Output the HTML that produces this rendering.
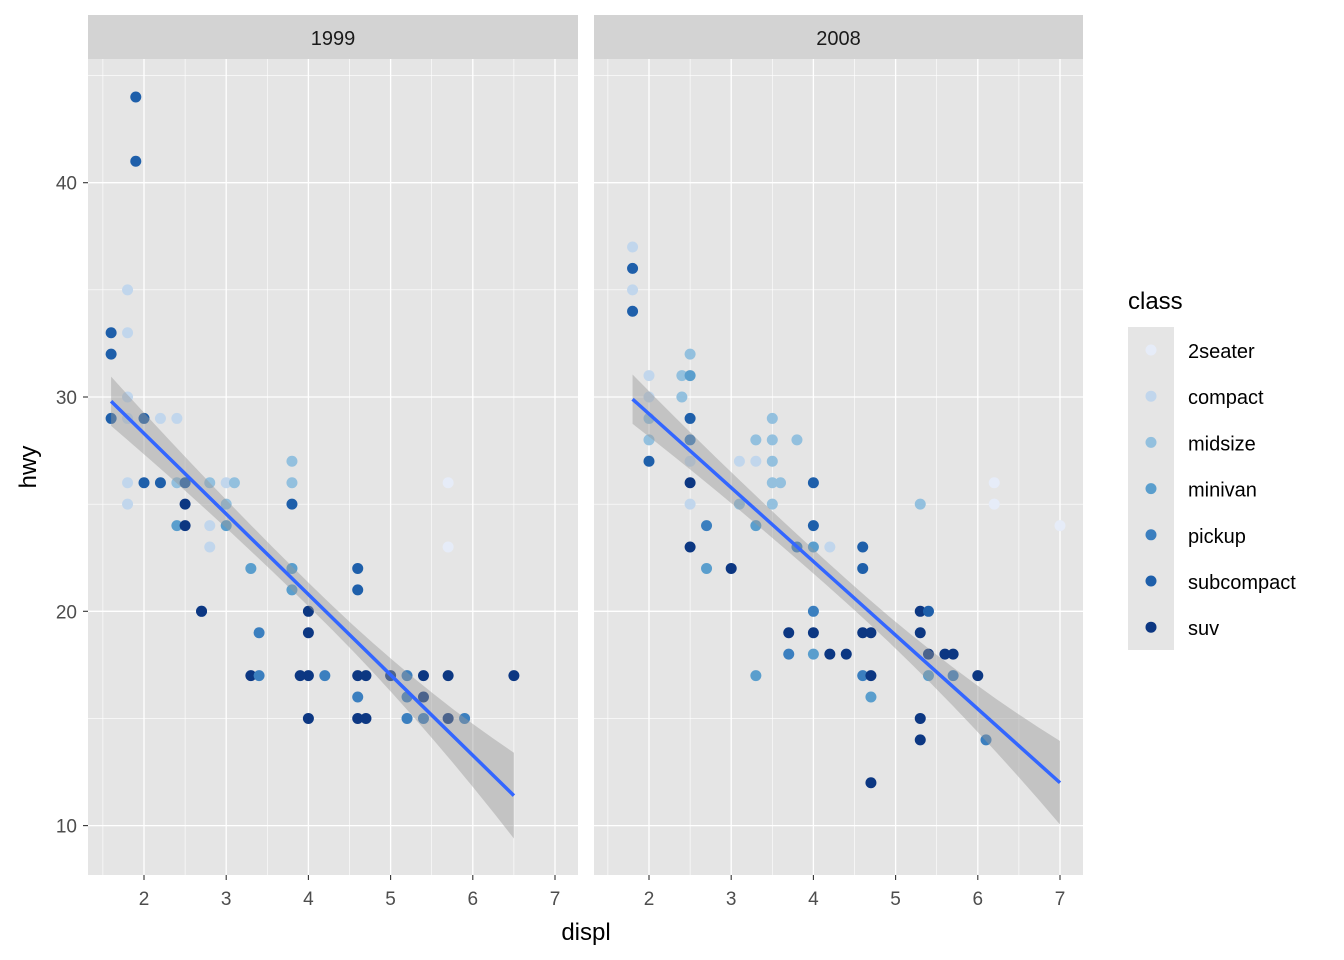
<!DOCTYPE html>
<html><head><meta charset="utf-8"><style>body{margin:0;background:#fff}svg{display:block}text{font-family:"Liberation Sans",Arial,sans-serif}</style></head>
<body>
<svg id="s" width="1344" height="960" xmlns="http://www.w3.org/2000/svg"></svg>
<script>
(function(){
const S=document.getElementById('s');let h='';
const C={'2s':'#E6ECF8',c:'#C1D6EC',mid:'#93C0DE',min:'#5A9ECD',pick:'#3B7FBF',sub:'#1E5FAA',suv:'#0C3782'};
const order=['2s','c','mid','min','pick','sub','suv'];
const px=(x,o)=>o+144+(x-2)*82.2, py=y=>397-(y-30)*21.43;
const PT=59,PB=875;
const p1=[[1.6,33,'sub'],[1.6,32,'sub'],[1.6,29,'sub'],[1.8,35,'c'],[1.8,33,'c'],[1.8,30,'c'],[1.8,29,'c'],[1.8,26,'c'],[1.8,25,'c'],[1.9,44,'sub'],[1.9,41,'sub'],[2.0,29,'sub'],[2.0,26,'sub'],[2.2,29,'c'],[2.2,26,'sub'],[2.4,29,'c'],[2.4,26,'mid'],[2.4,24,'min'],[2.5,26,'sub'],[2.5,25,'suv'],[2.5,24,'suv'],[2.7,20,'pick'],[2.7,20,'suv'],[2.8,26,'mid'],[2.8,24,'c'],[2.8,23,'c'],[3.0,26,'c'],[3.0,25,'mid'],[3.0,24,'min'],[3.1,26,'mid'],[3.3,22,'min'],[3.3,17,'suv'],[3.4,19,'pick'],[3.4,17,'pick'],[3.8,27,'mid'],[3.8,26,'mid'],[3.8,25,'sub'],[3.8,22,'min'],[3.8,21,'min'],[4.0,20,'suv'],[4.0,19,'suv'],[4.0,17,'suv'],[4.0,15,'suv'],[3.9,17,'suv'],[4.2,17,'pick'],[4.6,22,'sub'],[4.6,21,'sub'],[4.6,17,'suv'],[4.6,16,'pick'],[4.6,15,'suv'],[4.7,17,'suv'],[4.7,15,'suv'],[5.0,17,'suv'],[5.2,17,'pick'],[5.2,16,'pick'],[5.2,15,'pick'],[5.4,17,'suv'],[5.4,16,'suv'],[5.4,15,'pick'],[5.7,17,'suv'],[5.7,15,'suv'],[5.7,26,'2s'],[5.7,23,'2s'],[5.9,15,'pick'],[6.5,17,'suv']];
const p2=[[1.8,37,'c'],[1.8,36,'sub'],[1.8,35,'c'],[1.8,34,'sub'],[2.0,31,'c'],[2.0,30,'c'],[2.0,29,'mid'],[2.0,28,'mid'],[2.0,27,'sub'],[2.4,31,'mid'],[2.4,30,'mid'],[2.5,32,'mid'],[2.5,31,'min'],[2.5,29,'sub'],[2.5,28,'pick'],[2.5,27,'c'],[2.5,26,'suv'],[2.5,25,'c'],[2.5,23,'suv'],[2.7,24,'pick'],[2.7,22,'min'],[3.0,22,'suv'],[3.1,27,'c'],[3.1,25,'mid'],[3.3,28,'mid'],[3.3,27,'c'],[3.3,24,'min'],[3.3,17,'min'],[3.5,29,'mid'],[3.5,28,'mid'],[3.5,27,'mid'],[3.5,26,'mid'],[3.5,25,'mid'],[3.6,26,'mid'],[3.7,19,'suv'],[3.7,18,'pick'],[3.8,28,'mid'],[3.8,23,'pick'],[4.0,26,'sub'],[4.0,24,'sub'],[4.0,23,'min'],[4.0,20,'pick'],[4.0,19,'suv'],[4.0,18,'min'],[4.2,23,'c'],[4.2,18,'suv'],[4.4,18,'suv'],[4.6,23,'sub'],[4.6,22,'sub'],[4.6,19,'suv'],[4.6,17,'pick'],[4.7,19,'suv'],[4.7,17,'suv'],[4.7,16,'min'],[4.7,12,'suv'],[5.3,25,'mid'],[5.3,20,'suv'],[5.3,19,'suv'],[5.3,15,'suv'],[5.3,14,'suv'],[5.4,20,'sub'],[5.4,18,'suv'],[5.4,17,'min'],[5.6,18,'suv'],[5.7,18,'suv'],[5.7,17,'pick'],[6.0,17,'suv'],[6.1,14,'pick'],[6.2,26,'2s'],[6.2,25,'2s'],[7.0,24,'2s']];
function panel(o,L,R,lab,pts,x0,y0,x1,y1,w0,wm,w1){
 h+=`<rect x="${L}" y="15" width="${R-L}" height="44" fill="#D3D3D3"/><text x="${(L+R)/2}" y="45" font-size="20" text-anchor="middle" fill="#1A1A1A">${lab}</text>`;
 h+=`<rect x="${L}" y="${PT}" width="${R-L}" height="${PB-PT}" fill="#E5E5E5"/>`;
 for(let v=15;v<=45;v+=10)h+=`<line x1="${L}" x2="${R}" y1="${py(v)}" y2="${py(v)}" stroke="#fff" stroke-width="0.6"/>`;
 for(let v=1.5;v<=7;v+=1)h+=`<line y1="${PT}" y2="${PB}" x1="${px(v,o)}" x2="${px(v,o)}" stroke="#fff" stroke-width="0.6"/>`;
 for(let v=10;v<=40;v+=10)h+=`<line x1="${L}" x2="${R}" y1="${py(v)}" y2="${py(v)}" stroke="#fff" stroke-width="1.3"/>`;
 for(let v=2;v<=7;v++){h+=`<line y1="${PT}" y2="${PB}" x1="${px(v,o)}" x2="${px(v,o)}" stroke="#fff" stroke-width="1.3"/><line y1="${PB}" y2="${PB+5}" x1="${px(v,o)}" x2="${px(v,o)}" stroke="#333" stroke-width="1.1"/><text x="${px(v,o)}" y="905" font-size="19" text-anchor="middle" fill="#4D4D4D">${v}</text>`;}
 for(const p of pts)h+=`<circle cx="${px(p[0],o)}" cy="${py(p[1])}" r="5.5" fill="${C[p[2]]}"/>`;
 const N=20,up=[],dn=[];
 for(let i=0;i<=N;i++){const t=i/N,x=x0+(x1-x0)*t,y=y0+(y1-y0)*t;const xm=(x0+x1)/2;const a=(x-xm)/((x1-x0)/2);const w=wm+(a<0?(w0-wm):(w1-wm))*a*a;up.push(px(x,o)+','+py(y+w));dn.unshift(px(x,o)+','+py(y-w));}
 h+=`<polygon points="${up.concat(dn).join(' ')}" fill="#999" fill-opacity="0.45"/>`;
 h+=`<line x1="${px(x0,o)}" y1="${py(y0)}" x2="${px(x1,o)}" y2="${py(y1)}" stroke="#3366FF" stroke-width="3.5"/>`;
}
panel(0,88,578,'1999',p1,1.6,29.8,6.5,11.4,1.15,0.55,2.0);
panel(505,594,1083,'2008',p2,1.8,29.9,7.0,12.0,1.15,0.55,1.95);
for(let v=10;v<=40;v+=10)h+=`<line x1="83" x2="88" y1="${py(v)}" y2="${py(v)}" stroke="#333" stroke-width="1.1"/><text x="77" y="${py(v)+7}" font-size="19" text-anchor="end" fill="#4D4D4D">${v}</text>`;
h+=`<text x="586" y="940" font-size="24" text-anchor="middle" fill="#000">displ</text>`;
h+=`<text transform="translate(36,467) rotate(-90)" font-size="24" text-anchor="middle" fill="#000">hwy</text>`;
h+=`<text x="1128" y="309" font-size="24" fill="#000">class</text><rect x="1128" y="327" width="46" height="323" fill="#E5E5E5"/>`;
const names=['2seater','compact','midsize','minivan','pickup','subcompact','suv'];
names.forEach((n,i)=>{const y=350+i*46.2;h+=`<circle cx="1151" cy="${y}" r="5.5" fill="${C[order[i]]}"/><text x="1188" y="${y+8}" font-size="20" fill="#000">${n}</text>`;});
S.innerHTML=h;
})();
</script>
</body></html>
